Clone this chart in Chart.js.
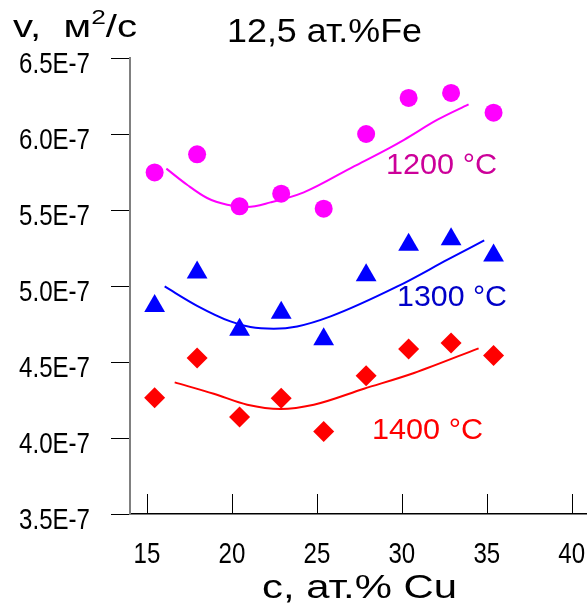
<!DOCTYPE html>
<html lang="ru">
<head>
<meta charset="utf-8">
<title>v(c), 12,5 ат.%Fe</title>
<script src="https://cdn.jsdelivr.net/npm/chart.js"></script>
<style>
  html, body { margin: 0; padding: 0; background: #fff; }
  #wrap { width: 587px; height: 605px; }
</style>
</head>
<body>
<div id="wrap"><canvas id="chart" width="587" height="605"></canvas></div>
<script>
// концентрация Cu, ат.%
const concCu = [15.45, 17.95, 20.45, 22.9, 25.4, 27.9, 30.4, 32.9, 35.4];

// v, единицы 1E-7 м2/с
const v1200 = [5.747, 5.866, 5.524, 5.607, 5.509, 6.0, 6.237, 6.27, 6.14];
const v1300 = [4.868, 5.088, 4.712, 4.824, 4.649, 5.07, 5.272, 5.307, 5.201];
const v1400 = [4.265, 4.526, 4.138, 4.261, 4.043, 4.41, 4.586, 4.625, 4.542];

// сглаживающие кривые
const fitX1200 = [16.14, 17.36, 18.54, 19.72, 20.9, 22.27, 24.23, 27.18, 29.15, 30.13, 32.1, 33.93];
const fitY1200 = [5.772, 5.666, 5.579, 5.535, 5.52, 5.55, 5.616, 5.787, 5.901, 5.962, 6.094, 6.195];
const fitX1300 = [16.04, 17.95, 19.91, 21.09, 22.46, 23.84, 25.81, 29.74, 32.69, 34.85];
const fitY1300 = [4.997, 4.87, 4.767, 4.73, 4.719, 4.734, 4.8, 4.997, 5.173, 5.3];
const fitX1400 = [16.63, 18.93, 20.9, 22.86, 24.82, 27.77, 30.72, 34.52];
const fitY1400 = [4.366, 4.291, 4.219, 4.191, 4.219, 4.324, 4.428, 4.59];

const xTicks = [15, 20, 25, 30, 35, 40];
const xTickLabels = ['15', '20', '25', '30', '35', '40'];
const yTicks = [3.5, 4.0, 4.5, 5.0, 5.5, 6.0, 6.5];
const yTickLabels = ['3.5E-7', '4.0E-7', '4.5E-7', '5.0E-7', '5.5E-7', '6.0E-7', '6.5E-7'];

const SANS = '"Liberation Sans", Arial, sans-serif';
const TICK_FONT = '29px ' + SANS;
const NARROW_K = 0.83; // шрифт подписей осей узкий

function toPoints(xs, ys) {
  return xs.map((x, i) => ({ x: x, y: ys[i] }));
}

// текст, сжатый/растянутый по горизонтали
function drawScaled(ctx, text, x, baseline, align, sx, font, color) {
  ctx.save();
  ctx.font = font;
  ctx.fillStyle = color || '#000';
  ctx.textBaseline = 'alphabetic';
  ctx.textAlign = align;
  ctx.translate(x, baseline);
  ctx.scale(sx, 1);
  ctx.fillText(text, 0, 0);
  ctx.restore();
}

// текст из нескольких кусков, подогнанный под ширину
function fitText(ctx, parts, left, baseline, width, color) {
  let natural = 0;
  parts.forEach(p => {
    ctx.font = p.font;
    natural += ctx.measureText(p.text).width;
  });
  const sx = width / natural;
  ctx.save();
  ctx.fillStyle = color;
  ctx.textBaseline = 'alphabetic';
  ctx.textAlign = 'left';
  ctx.translate(left, baseline);
  ctx.scale(sx, 1);
  let x = 0;
  parts.forEach(p => {
    ctx.font = p.font;
    ctx.fillText(p.text, x, p.dy || 0);
    x += ctx.measureText(p.text).width;
  });
  ctx.restore();
}

const labelsPlugin = {
  id: 'labels',
  afterDraw(chart) {
    const { ctx, chartArea, scales } = chart;

    // засечки оси X внутрь
    ctx.save();
    ctx.strokeStyle = '#000';
    ctx.lineWidth = 1;
    xTicks.forEach(v => {
      const px = Math.round(scales.x.getPixelForValue(v)) + 0.5;
      ctx.beginPath();
      ctx.moveTo(px, chartArea.bottom);
      ctx.lineTo(px, chartArea.bottom - 20);
      ctx.stroke();
    });
    ctx.restore();

    // подписи делений
    yTicks.forEach((v, i) => {
      const py = scales.y.getPixelForValue(v);
      drawScaled(ctx, yTickLabels[i], 90, py + 14.5, 'right', NARROW_K, TICK_FONT);
    });
    xTicks.forEach((v, i) => {
      const px = scales.x.getPixelForValue(v);
      drawScaled(ctx, xTickLabels[i], px, chartArea.bottom + 48.5, 'center', NARROW_K, TICK_FONT);
    });

    fitText(ctx, [{ text: '12,5 ат.%Fe', font: '34px ' + SANS }], 227, 42, 195, '#000');
    fitText(ctx, [
      { text: 'v,  м', font: '32px ' + SANS },
      { text: '2', font: '21px ' + SANS, dy: -13 },
      { text: '/с', font: '32px ' + SANS },
    ], 13, 37, 124, '#000');
    fitText(ctx, [{ text: 'c, ат.% Cu', font: '34px ' + SANS }], 262, 598, 195, '#000');

    fitText(ctx, [{ text: '1200 °C', font: '30px ' + SANS }], 386, 174, 111, '#CC0099');
    fitText(ctx, [{ text: '1300 °C', font: '30px ' + SANS }], 397, 306, 110, '#0000C8');
    fitText(ctx, [{ text: '1400 °C', font: '30px ' + SANS }], 372, 439, 111, '#FF0000');
  },
};

const ctx = document.getElementById('chart').getContext('2d');

new Chart(ctx, {
  type: 'scatter',
  data: {
    datasets: [
      {
        data: toPoints(fitX1200, fitY1200),
        showLine: true,
        borderColor: '#FF00FF',
        borderWidth: 2,
        pointRadius: 0,
        cubicInterpolationMode: 'monotone',
      },
      {
        data: toPoints(fitX1300, fitY1300),
        showLine: true,
        borderColor: '#0000FF',
        borderWidth: 2,
        pointRadius: 0,
        cubicInterpolationMode: 'monotone',
      },
      {
        data: toPoints(fitX1400, fitY1400),
        showLine: true,
        borderColor: '#FF0000',
        borderWidth: 2,
        pointRadius: 0,
        cubicInterpolationMode: 'monotone',
      },
      {
        data: toPoints(concCu, v1200),
        pointStyle: 'circle',
        pointRadius: 9,
        backgroundColor: '#FF00FF',
        borderWidth: 0,
      },
      {
        data: toPoints(concCu, v1300),
        pointStyle: 'triangle',
        pointRadius: 12,
        backgroundColor: '#0000FF',
        borderWidth: 0,
      },
      {
        data: toPoints(concCu, v1400),
        pointStyle: 'rectRot',
        pointRadius: 10.5,
        backgroundColor: '#FF0000',
        borderWidth: 0,
      },
    ],
  },
  options: {
    responsive: false,
    animation: false,
    events: [],
    layout: {
      autoPadding: false,
      padding: { top: 58, left: 0, right: 0, bottom: 0 },
    },
    plugins: {
      legend: { display: false },
      tooltip: { enabled: false },
    },
    scales: {
      x: {
        type: 'linear',
        min: 14,
        max: 40.9,
        afterBuildTicks: s => { s.ticks = xTicks.map(v => ({ value: v })); },
        afterFit: s => { s.height = 91; },
        grid: { display: false, drawTicks: false },
        border: { display: true, color: '#000', width: 1.5 },
        ticks: { display: false },
      },
      y: {
        type: 'linear',
        min: 3.5,
        max: 6.5,
        afterBuildTicks: s => { s.ticks = yTicks.map(v => ({ value: v })); },
        afterFit: s => { s.width = 130; },
        grid: {
          drawOnChartArea: false,
          drawTicks: true,
          tickLength: 19,
          color: '#000',
          lineWidth: 1,
        },
        border: { display: true, color: '#808080', width: 2 },
        ticks: { display: false },
      },
    },
  },
  plugins: [labelsPlugin],
});
</script>
</body>
</html>
